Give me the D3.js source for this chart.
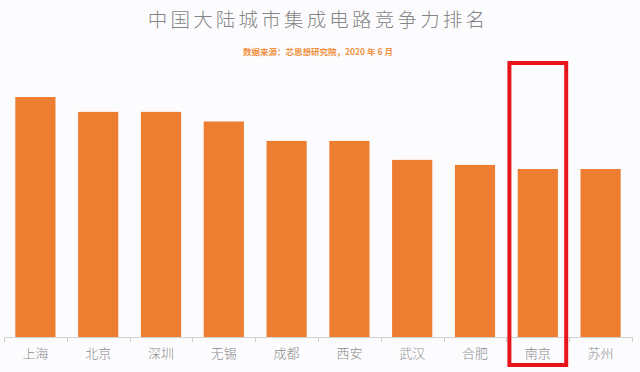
<!DOCTYPE html>
<html lang="zh">
<head>
<meta charset="utf-8">
<title>中国大陆城市集成电路竞争力排名</title>
<script src="https://cdn.jsdelivr.net/npm/d3@7"></script>
<style>
  html, body { margin: 0; padding: 0; background: #fcfcfe; }
  text { font-family: "Noto Sans CJK SC", "Noto Sans", sans-serif; }
</style>
</head>
<body>
<div id="chart"></div>
<script>
// data (relative score, 上海 = 100)
var cities = ["上海", "北京", "深圳", "无锡", "成都", "西安", "武汉", "合肥", "南京", "苏州"];
var scores = [100, 93.8, 93.8, 89.8, 81.7, 81.7, 73.8, 71.7, 70, 70];
var highlight = "南京";

var width = 640, height = 372;
var baseline = 337;

var svg = d3.select("#chart").append("svg")
    .attr("width", width)
    .attr("height", height);

svg.append("rect")
    .attr("width", width)
    .attr("height", height)
    .attr("fill", "#fcfcfe");

var x = d3.scaleBand()
    .domain(cities)
    .range([4, 632])
    .paddingInner(0.36)
    .paddingOuter(0.18);

var y = d3.scaleLinear()
    .domain([0, 100])
    .range([baseline, 97]);

var step = x.step();
var slot = function(c) { return x(c) - x.paddingOuter() * step; };

// title
svg.append("text")
    .attr("x", 318)
    .attr("y", 27)
    .attr("text-anchor", "middle")
    .attr("font-size", 19.5)
    .attr("font-weight", 300)
    .attr("fill", "#858585")
    .attr("letter-spacing", 3.2)
    .text("中国大陆城市集成电路竞争力排名");

svg.append("text")
    .attr("x", 318)
    .attr("y", 55)
    .attr("text-anchor", "middle")
    .attr("font-size", 8.5)
    .attr("font-weight", "bold")
    .attr("fill", "#f0913f")
    .text("数据来源：芯思想研究院，2020 年 6 月");

// bars
svg.selectAll(".bar")
    .data(cities)
  .enter().append("rect")
    .attr("class", "bar")
    .attr("x", function(d) { return x(d); })
    .attr("width", x.bandwidth())
    .attr("y", function(d, i) { return y(scores[i]); })
    .attr("height", function(d, i) { return baseline - y(scores[i]); })
    .attr("fill", "#ed7d31");

// axis line and boundary ticks
svg.append("line")
    .attr("x1", x.range()[0]).attr("x2", x.range()[1])
    .attr("y1", baseline + 0.5).attr("y2", baseline + 0.5)
    .attr("stroke", "#d0d0d0");

var edges = cities.map(slot).concat([x.range()[1]]);
svg.selectAll(".tick")
    .data(edges)
  .enter().append("line")
    .attr("class", "tick")
    .attr("x1", function(d) { return Math.round(d) + 0.5; })
    .attr("x2", function(d) { return Math.round(d) + 0.5; })
    .attr("y1", baseline)
    .attr("y2", baseline + 5)
    .attr("stroke", "#d0d0d0");

svg.selectAll(".label")
    .data(cities)
  .enter().append("text")
    .attr("class", "label")
    .attr("x", function(d) { return x(d) + x.bandwidth() / 2; })
    .attr("y", 358)
    .attr("text-anchor", "middle")
    .attr("font-size", 13)
    .attr("font-weight", 300)
    .attr("fill", "#8c8c8c")
    .text(function(d) { return d; });

// red frame around the highlighted city
svg.append("rect")
    .attr("x", slot(highlight) + 3)
    .attr("y", 63)
    .attr("width", step - 6)
    .attr("height", 302)
    .attr("fill", "none")
    .attr("stroke", "#e8141b")
    .attr("stroke-width", 4);
</script>
</body>
</html>
